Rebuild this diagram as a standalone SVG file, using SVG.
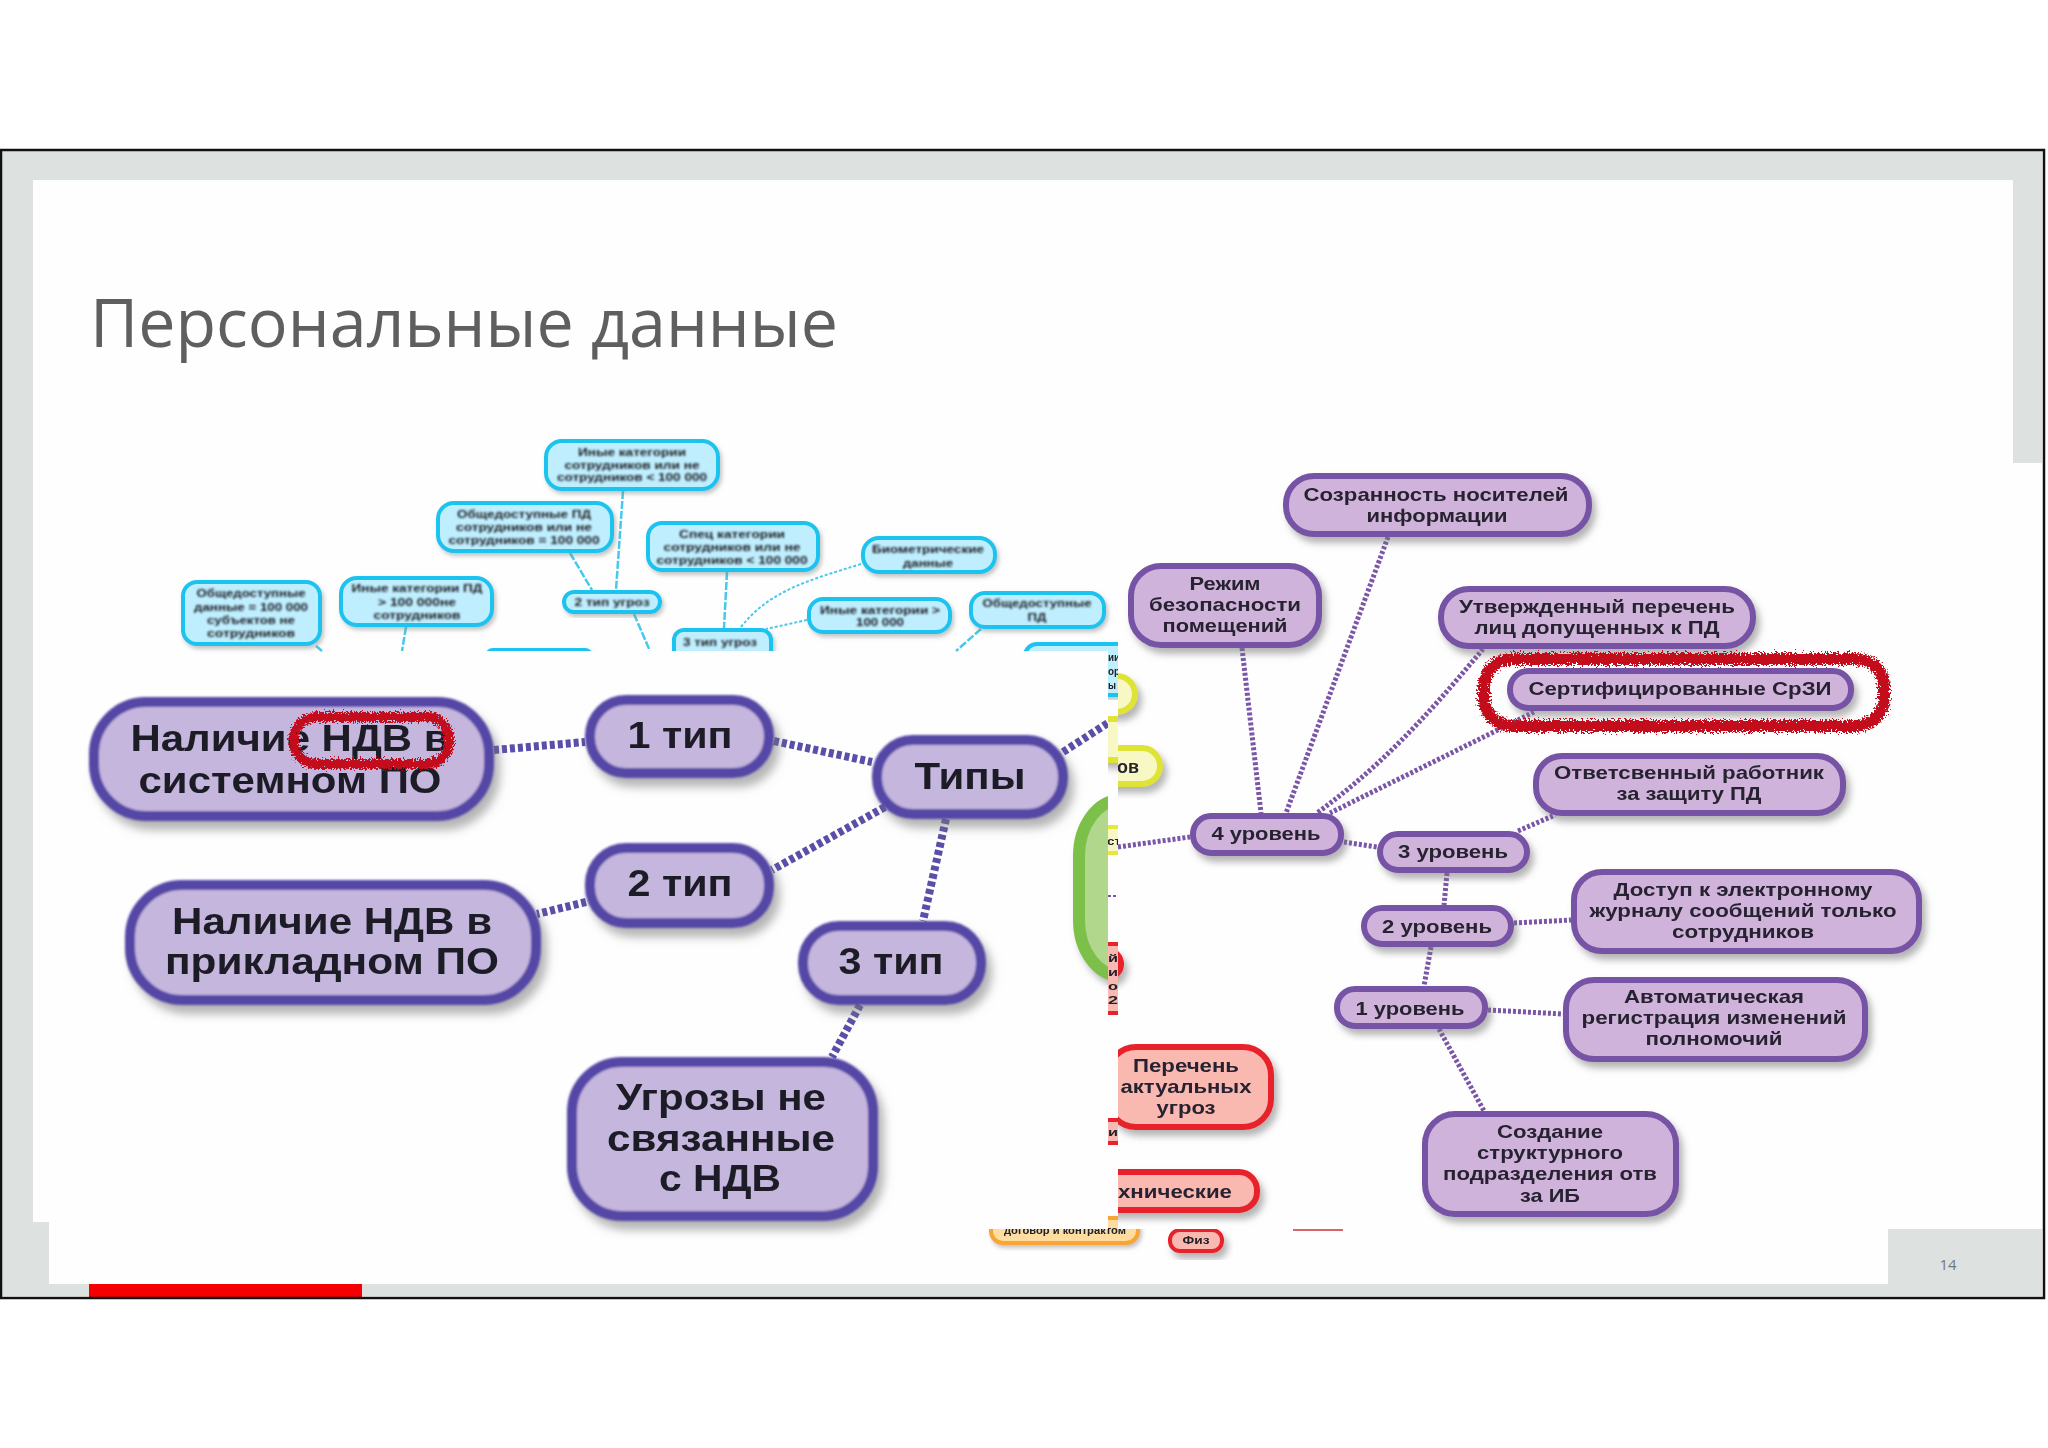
<svg xmlns="http://www.w3.org/2000/svg" width="2048" height="1448" viewBox="0 0 2048 1448">
<style>
text{font-family:"Liberation Sans",Arial,sans-serif;font-weight:700;text-anchor:middle;fill:#262230}
.big{font-size:36px;fill:#1f1c28}
.mid{font-size:19px}
.sm{font-size:11px;fill:#202028}
.ov{fill:#c5b6dd;stroke:#5447a6;stroke-width:10;filter:url(#sh3)}
.pu{fill:#d0b3da;stroke:#7652a5;stroke-width:6;filter:url(#sh2)}
.cy{fill:#bfefff;stroke:#1fc3ee;stroke-width:4;filter:url(#sh1)}
.ye{fill:#f8f8c4;stroke:#dfe338;stroke-width:6;filter:url(#sh2)}
.re{fill:#f9b9b0;stroke:#e8232b;stroke-width:6;filter:url(#sh2)}
.gr{fill:#b1d78d;stroke:#7cc04a;stroke-width:12;filter:url(#sh2)}
.or{fill:#ffdca0;stroke:#f8a534;stroke-width:4;filter:url(#sh1)}
.scr{fill:none;stroke:#c40f1a;filter:url(#rough)}
.cOv{fill:none;stroke:#5a4fa8;stroke-width:8;stroke-dasharray:5 3}
.cPu{fill:none;stroke:#7a55a8;stroke-width:5;stroke-dasharray:3 2}
.cCy{fill:none;stroke:#45c9ec;stroke-width:2.5;stroke-dasharray:8 2}
.cCd{fill:none;stroke:#45c9ec;stroke-width:2;stroke-dasharray:3 2}
</style>
<defs>
<filter id="sh1" x="-20%" y="-20%" width="140%" height="150%"><feGaussianBlur stdDeviation=".6"/><feDropShadow dx="2" dy="3" stdDeviation="2" flood-color="#888" flood-opacity=".5"/></filter>
<filter id="sh2" x="-20%" y="-30%" width="140%" height="170%"><feGaussianBlur stdDeviation=".7"/><feDropShadow dx="4" dy="6" stdDeviation="3.5" flood-color="#777" flood-opacity=".55"/></filter>
<filter id="sh3" x="-20%" y="-30%" width="140%" height="170%"><feGaussianBlur stdDeviation=".9"/><feDropShadow dx="6" dy="9" stdDeviation="5" flood-color="#777" flood-opacity=".55"/></filter>
<filter id="b1" x="-5%" y="-20%" width="110%" height="140%"><feGaussianBlur stdDeviation=".7"/></filter>
<filter id="b2" x="-5%" y="-20%" width="110%" height="140%"><feGaussianBlur stdDeviation="1"/></filter>
<filter id="rough" x="-10%" y="-30%" width="120%" height="160%"><feTurbulence type="fractalNoise" baseFrequency=".55" numOctaves="2" seed="4"/><feDisplacementMap in="SourceGraphic" scale="11" xChannelSelector="R" yChannelSelector="G"/></filter>
<clipPath id="cTop"><rect x="0" y="0" width="2048" height="651"/></clipPath>
<clipPath id="cL"><rect x="0" y="0" width="1118" height="651"/><rect x="1108" y="640" width="10" height="60"/></clipPath>
<clipPath id="cStrip"><rect x="1108" y="640" width="10" height="600"/></clipPath>
<clipPath id="cRight"><rect x="1118" y="640" width="300" height="620"/></clipPath>
<clipPath id="cGreen"><rect x="1050" y="780" width="58" height="220"/></clipPath>
<clipPath id="cRedArc"><rect x="1118" y="930" width="40" height="90"/></clipPath>
<clipPath id="cBot"><rect x="900" y="1229" width="500" height="40"/><rect x="1108" y="1200" width="10" height="40"/></clipPath>
<clipPath id="cBot2"><rect x="900" y="1229" width="500" height="40"/></clipPath>
</defs>

<g id="frame">
<rect x="0" y="0" width="2048" height="1448" fill="#fff"/>
<rect x="1" y="150" width="2043" height="1148" fill="#fefefe"/>
<path d="M2 151H2042V463H2013V180H33V1222H49V1284H1888V1229H2042V1296H2V151Z" fill="#dde2e0"/>
<rect x="89" y="1284" width="273" height="14" fill="#f40000"/>
<rect x="1" y="150" width="2043" height="1148" fill="none" stroke="#111" stroke-width="2.5"/>
<text x="464" y="347" font-size="68" textLength="748" lengthAdjust="spacingAndGlyphs" style="font-family:'Open Sans','Noto Sans',sans-serif;font-weight:400;fill:#5f5f5f">Персональные данные</text>
<text x="1948" y="1270" font-size="15" style="font-family:'Open Sans',sans-serif;font-weight:400;fill:#777">14</text>
</g>

<g id="connectors">
<g filter="url(#b1)">
<path class="cCy" d="M623 491L616 590"/>
<path class="cCy" d="M570 553L592 590"/>
<path class="cCy" d="M727 572L724 628"/>
<path class="cCd" d="M861 564C810 580 770 590 741 627"/>
<path class="cCd" d="M807 620L766 629"/>
<path class="cCy" d="M981 629L956 651"/>
<path class="cCy" d="M634 614L650 651"/>
<path class="cCy" d="M406 627L402 651"/>
<path class="cCy" d="M316 646L322 651"/>
</g>
<g filter="url(#b1)">
<path class="cPu" d="M1242 648L1261 813"/>
<path class="cPu" d="M1388 537L1286 813"/>
<path class="cPu" d="M1483 649C1440 700 1390 760 1317 813"/>
<path class="cPu" d="M1534 712L1330 813"/>
<path class="cPu" d="M1518 831L1555 815"/>
<path class="cPu" d="M1344 842L1377 847"/>
<path class="cPu" d="M1118 847L1190 837"/>
<path class="cPu" d="M1447 873L1444 905"/>
<path class="cPu" d="M1514 923L1571 920"/>
<path class="cPu" d="M1431 947L1424 986"/>
<path class="cPu" d="M1488 1010L1563 1014"/>
<path class="cPu" d="M1439 1029L1484 1111"/>
<path class="cPu" style="stroke-width:2" d="M1108 896H1117"/>
</g>
<g filter="url(#b1)">
<path class="cOv" d="M494 750L585 742"/>
<path class="cOv" d="M774 741L872 762"/>
<path class="cOv" d="M885 807L772 870"/>
<path class="cOv" d="M586 902L537 914"/>
<path class="cOv" d="M946 819L923 921"/>
<path class="cOv" d="M860 1005L832 1057"/>
<path class="cOv" d="M1063 752L1108 723"/>
</g>
</g>

<g id="cy-a"><rect class="cy" x="546" y="441" width="172" height="48" rx="16"/><g filter="url(#b2)"><text class="sm" x="632" y="456" textLength="108" lengthAdjust="spacingAndGlyphs">Иные категории</text><text class="sm" x="632" y="469" textLength="135" lengthAdjust="spacingAndGlyphs">сотрудников или не</text><text class="sm" x="632" y="481" textLength="150" lengthAdjust="spacingAndGlyphs">сотрудников &lt; 100 000</text></g></g>
<g id="cy-b"><rect class="cy" x="438" y="503" width="174" height="48" rx="16"/><g filter="url(#b2)"><text class="sm" x="524" y="518" textLength="134" lengthAdjust="spacingAndGlyphs">Общедоступные ПД</text><text class="sm" x="524" y="531" textLength="136" lengthAdjust="spacingAndGlyphs">сотрудников или не</text><text class="sm" x="524" y="544" textLength="151" lengthAdjust="spacingAndGlyphs">сотрудников = 100 000</text></g></g>
<g id="cy-c"><rect class="cy" x="648" y="523" width="170" height="47" rx="14"/><g filter="url(#b2)"><text class="sm" x="732" y="538" textLength="106" lengthAdjust="spacingAndGlyphs">Спец категории</text><text class="sm" x="732" y="551" textLength="137" lengthAdjust="spacingAndGlyphs">сотрудников или не</text><text class="sm" x="732" y="564" textLength="151" lengthAdjust="spacingAndGlyphs">сотрудников &lt; 100 000</text></g></g>
<g id="cy-d"><rect class="cy" x="863" y="538" width="132" height="34" rx="16"/><g filter="url(#b2)"><text class="sm" x="928" y="553" textLength="112" lengthAdjust="spacingAndGlyphs">Биометрические</text><text class="sm" x="928" y="567" textLength="50" lengthAdjust="spacingAndGlyphs">данные</text></g></g>
<g id="cy-e"><rect class="cy" x="564" y="592" width="96" height="20" rx="10"/><text class="sm" x="612" y="606" textLength="75" lengthAdjust="spacingAndGlyphs" filter="url(#b2)">2 тип угроз</text></g>
<g id="cy-f"><rect class="cy" x="809" y="599" width="141" height="33" rx="14"/><g filter="url(#b2)"><text class="sm" x="880" y="614" textLength="120" lengthAdjust="spacingAndGlyphs">Иные категории &gt;</text><text class="sm" x="880" y="626" textLength="48" lengthAdjust="spacingAndGlyphs">100 000</text></g></g>
<g id="cy-g"><rect class="cy" x="971" y="593" width="133" height="34" rx="14"/><g filter="url(#b2)"><text class="sm" x="1037" y="607" textLength="109" lengthAdjust="spacingAndGlyphs">Общедоступные</text><text class="sm" x="1037" y="621" textLength="19" lengthAdjust="spacingAndGlyphs">ПД</text></g></g>
<g id="cy-h"><rect class="cy" x="341" y="578" width="151" height="47" rx="16"/><g filter="url(#b2)"><text class="sm" x="417" y="592" textLength="131" lengthAdjust="spacingAndGlyphs">Иные категории ПД</text><text class="sm" x="417" y="606" textLength="78" lengthAdjust="spacingAndGlyphs">&gt; 100 000не</text><text class="sm" x="417" y="619" textLength="87" lengthAdjust="spacingAndGlyphs">сотрудников</text></g></g>
<g id="cy-i"><rect class="cy" x="183" y="582" width="137" height="62" rx="14"/><g filter="url(#b2)"><text class="sm" x="251" y="597" textLength="109" lengthAdjust="spacingAndGlyphs">Общедоступные</text><text class="sm" x="251" y="611" textLength="114" lengthAdjust="spacingAndGlyphs">данные = 100 000</text><text class="sm" x="251" y="624" textLength="88" lengthAdjust="spacingAndGlyphs">субъектов не</text><text class="sm" x="251" y="637" textLength="88" lengthAdjust="spacingAndGlyphs">сотрудников</text></g></g>
<g id="cy-j" clip-path="url(#cTop)"><rect class="cy" x="674" y="630" width="97" height="40" rx="10"/><text class="sm" x="720" y="646" textLength="74" lengthAdjust="spacingAndGlyphs" filter="url(#b2)">3 тип угроз</text></g>
<g id="cy-k" clip-path="url(#cTop)"><rect class="cy" x="487" y="650" width="104" height="40" rx="6"/></g>
<g id="cy-l" clip-path="url(#cL)"><rect class="cy" x="1025" y="644" width="170" height="51" rx="12"/><g filter="url(#b1)"><text class="sm" x="1114" y="661" textLength="12" lengthAdjust="spacingAndGlyphs">ии</text><text class="sm" x="1114" y="675" textLength="12" lengthAdjust="spacingAndGlyphs">ор</text><text class="sm" x="1112" y="689" textLength="8" lengthAdjust="spacingAndGlyphs">ы</text></g></g>

<g id="strip-yellow-1" clip-path="url(#cStrip)"><rect class="ye" x="1090" y="719" width="60" height="41" rx="20"/></g>
<g id="strip-yellow-2" clip-path="url(#cStrip)"><rect x="1090" y="825" width="60" height="30" fill="#f8f8c4"/><path d="M1090 827H1150M1090 853H1150" stroke="#e6e93c" stroke-width="4"/><text class="sm" x="1114" y="845" textLength="14" lengthAdjust="spacingAndGlyphs" filter="url(#b1)">ст</text></g>
<g id="strip-red-1" clip-path="url(#cStrip)"><rect x="1090" y="942" width="60" height="73" fill="#f9b9b0"/><path d="M1090 944H1150M1090 1013H1150" stroke="#e8232b" stroke-width="4"/><g filter="url(#b1)"><text class="sm" x="1113" y="962" textLength="10" lengthAdjust="spacingAndGlyphs">й</text><text class="sm" x="1113" y="976" textLength="10" lengthAdjust="spacingAndGlyphs">и</text><text class="sm" x="1113" y="990" textLength="10" lengthAdjust="spacingAndGlyphs">о</text><text class="sm" x="1113" y="1004" textLength="10" lengthAdjust="spacingAndGlyphs">2</text></g></g>
<g id="strip-red-2" clip-path="url(#cStrip)"><rect x="1090" y="1118" width="60" height="27" fill="#f9b9b0"/><path d="M1090 1120H1150M1090 1143H1150" stroke="#e8232b" stroke-width="4"/><text class="sm" x="1113" y="1136" textLength="10" lengthAdjust="spacingAndGlyphs" filter="url(#b1)">и</text></g>
<g id="red-arc" clip-path="url(#cRedArc)"><rect class="re" x="1060" y="950" width="61" height="28" rx="14"/></g>
<g id="green" clip-path="url(#cGreen)"><rect class="gr" x="1079" y="800" width="90" height="176" rx="42" ry="56"/></g>

<g id="ye-top" clip-path="url(#cRight)"><rect class="ye" x="1060" y="676" width="75" height="36" rx="18"/></g>
<g id="ye-ov" clip-path="url(#cRight)"><rect class="ye" x="1060" y="748" width="100" height="36" rx="18"/><text class="mid" x="1128" y="773" textLength="22" lengthAdjust="spacingAndGlyphs" filter="url(#b1)">ов</text></g>
<g id="re-list" clip-path="url(#cRight)"><rect class="re" x="1108" y="1047" width="163" height="80" rx="28"/><g filter="url(#b1)"><text class="mid" x="1186" y="1072" textLength="106" lengthAdjust="spacingAndGlyphs">Перечень</text><text class="mid" x="1186" y="1093" textLength="131" lengthAdjust="spacingAndGlyphs">актуальных</text><text class="mid" x="1186" y="1114" textLength="59" lengthAdjust="spacingAndGlyphs">угроз</text></g></g>
<g id="re-tech" clip-path="url(#cRight)"><rect class="re" x="1060" y="1172" width="197" height="38" rx="18"/><text class="mid" x="1175" y="1198" textLength="114" lengthAdjust="spacingAndGlyphs" filter="url(#b1)">хнические</text></g>
<g id="or-bot" clip-path="url(#cBot)"><rect class="or" x="991" y="1218" width="147" height="25" rx="12"/><text class="sm" x="1065" y="1234" textLength="122" lengthAdjust="spacingAndGlyphs" filter="url(#b1)">договор и контрактом</text></g>
<g id="re-small" clip-path="url(#cBot2)"><rect class="re" style="stroke-width:4" x="1170" y="1230" width="52" height="21" rx="10"/><text class="sm" x="1196" y="1244" textLength="27" lengthAdjust="spacingAndGlyphs" filter="url(#b1)">Физ</text></g>
<g id="re-cut"><rect x="1293" y="1229" width="50" height="2" fill="#d9646a"/></g>

<g id="pu-save"><rect class="pu" x="1286" y="476" width="303" height="58" rx="28"/><g filter="url(#b1)"><text class="mid" x="1436" y="501" textLength="265" lengthAdjust="spacingAndGlyphs">Созранность носителей</text><text class="mid" x="1437" y="522" textLength="141" lengthAdjust="spacingAndGlyphs">информации</text></g></g>
<g id="pu-mode"><rect class="pu" x="1131" y="566" width="188" height="79" rx="30"/><g filter="url(#b1)"><text class="mid" x="1225" y="590" textLength="71" lengthAdjust="spacingAndGlyphs">Режим</text><text class="mid" x="1225" y="611" textLength="152" lengthAdjust="spacingAndGlyphs">безопасности</text><text class="mid" x="1225" y="632" textLength="125" lengthAdjust="spacingAndGlyphs">помещений</text></g></g>
<g id="pu-list"><rect class="pu" x="1441" y="589" width="312" height="57" rx="28"/><g filter="url(#b1)"><text class="mid" x="1597" y="613" textLength="276" lengthAdjust="spacingAndGlyphs">Утвержденный перечень</text><text class="mid" x="1597" y="634" textLength="245" lengthAdjust="spacingAndGlyphs">лиц допущенных к ПД</text></g></g>
<g id="pu-cert"><rect class="pu" x="1510" y="671" width="341" height="37" rx="18"/><text class="mid" x="1680" y="695" textLength="303" lengthAdjust="spacingAndGlyphs" filter="url(#b1)">Сертифицированные СрЗИ</text><rect class="scr" x="1484" y="659" width="400" height="67" rx="28" stroke-width="12"/></g>
<g id="pu-resp"><rect class="pu" x="1536" y="756" width="307" height="57" rx="26"/><g filter="url(#b1)"><text class="mid" x="1689" y="779" textLength="270" lengthAdjust="spacingAndGlyphs">Ответсвенный работник</text><text class="mid" x="1689" y="800" textLength="145" lengthAdjust="spacingAndGlyphs">за защиту ПД</text></g></g>
<g id="pu-l4"><rect class="pu" x="1193" y="816" width="148" height="37" rx="18"/><text class="mid" x="1266" y="840" textLength="109" lengthAdjust="spacingAndGlyphs" filter="url(#b1)">4 уровень</text></g>
<g id="pu-l3"><rect class="pu" x="1380" y="834" width="147" height="36" rx="18"/><text class="mid" x="1453" y="858" textLength="110" lengthAdjust="spacingAndGlyphs" filter="url(#b1)">3 уровень</text></g>
<g id="pu-journal"><rect class="pu" x="1574" y="872" width="345" height="79" rx="28"/><g filter="url(#b1)"><text class="mid" x="1743" y="896" textLength="259" lengthAdjust="spacingAndGlyphs">Доступ к электронному</text><text class="mid" x="1743" y="917" textLength="307" lengthAdjust="spacingAndGlyphs">журналу сообщений только</text><text class="mid" x="1743" y="938" textLength="142" lengthAdjust="spacingAndGlyphs">сотрудников</text></g></g>
<g id="pu-l2"><rect class="pu" x="1364" y="908" width="147" height="36" rx="18"/><text class="mid" x="1437" y="933" textLength="110" lengthAdjust="spacingAndGlyphs" filter="url(#b1)">2 уровень</text></g>
<g id="pu-l1"><rect class="pu" x="1337" y="989" width="148" height="37" rx="18"/><text class="mid" x="1410" y="1015" textLength="109" lengthAdjust="spacingAndGlyphs" filter="url(#b1)">1 уровень</text></g>
<g id="pu-auto"><rect class="pu" x="1566" y="980" width="299" height="79" rx="28"/><g filter="url(#b1)"><text class="mid" x="1714" y="1003" textLength="180" lengthAdjust="spacingAndGlyphs">Автоматическая</text><text class="mid" x="1714" y="1024" textLength="265" lengthAdjust="spacingAndGlyphs">регистрация изменений</text><text class="mid" x="1714" y="1045" textLength="137" lengthAdjust="spacingAndGlyphs">полномочий</text></g></g>
<g id="pu-dept"><rect class="pu" x="1425" y="1114" width="251" height="100" rx="30"/><g filter="url(#b1)"><text class="mid" x="1550" y="1138" textLength="106" lengthAdjust="spacingAndGlyphs">Создание</text><text class="mid" x="1550" y="1159" textLength="146" lengthAdjust="spacingAndGlyphs">структурного</text><text class="mid" x="1550" y="1180" textLength="214" lengthAdjust="spacingAndGlyphs">подразделения отв</text><text class="mid" x="1550" y="1202" textLength="60" lengthAdjust="spacingAndGlyphs">за ИБ</text></g></g>

<g id="ov-sys"><rect class="ov" x="94" y="702" width="395" height="114" rx="52"/><g filter="url(#b1)"><text class="big" x="290" y="751" textLength="319" lengthAdjust="spacingAndGlyphs">Наличие НДВ в</text><text class="big" x="290" y="793" textLength="303" lengthAdjust="spacingAndGlyphs">системном ПО</text></g><rect class="scr" x="294" y="717" width="155" height="47" rx="22" stroke-width="10"/></g>
<g id="ov-t1"><rect class="ov" x="590" y="700" width="179" height="73" rx="36"/><text class="big" x="680" y="748" textLength="105" lengthAdjust="spacingAndGlyphs" filter="url(#b1)">1 тип</text></g>
<g id="ov-types"><rect class="ov" x="877" y="740" width="186" height="74" rx="36"/><text class="big" x="970" y="789" textLength="111" lengthAdjust="spacingAndGlyphs" filter="url(#b1)">Типы</text></g>
<g id="ov-t2"><rect class="ov" x="590" y="848" width="179" height="75" rx="36"/><text class="big" x="680" y="896" textLength="105" lengthAdjust="spacingAndGlyphs" filter="url(#b1)">2 тип</text></g>
<g id="ov-app"><rect class="ov" x="130" y="885" width="406" height="115" rx="52"/><g filter="url(#b1)"><text class="big" x="332" y="934" textLength="320" lengthAdjust="spacingAndGlyphs">Наличие НДВ в</text><text class="big" x="332" y="974" textLength="334" lengthAdjust="spacingAndGlyphs">прикладном ПО</text></g></g>
<g id="ov-t3"><rect class="ov" x="803" y="926" width="178" height="74" rx="36"/><text class="big" x="891" y="974" textLength="105" lengthAdjust="spacingAndGlyphs" filter="url(#b1)">3 тип</text></g>
<g id="ov-other"><rect class="ov" x="572" y="1062" width="301" height="154" rx="50"/><g filter="url(#b1)"><text class="big" x="721" y="1110" textLength="210" lengthAdjust="spacingAndGlyphs">Угрозы не</text><text class="big" x="721" y="1151" textLength="228" lengthAdjust="spacingAndGlyphs">связанные</text><text class="big" x="720" y="1191" textLength="122" lengthAdjust="spacingAndGlyphs">с НДВ</text></g></g>
</svg>
